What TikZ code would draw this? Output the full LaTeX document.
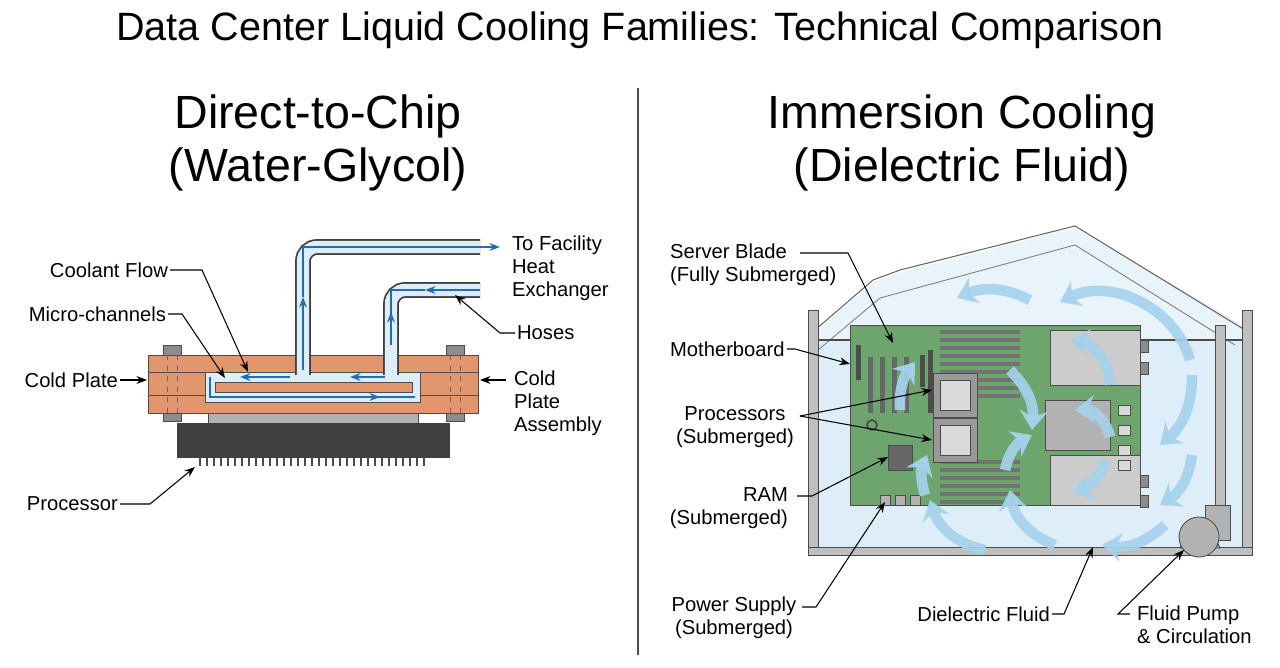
\documentclass[tikz,border=0pt]{standalone}
\usepackage{fontspec}
\setmainfont{Liberation Sans}
\usetikzlibrary{arrows.meta,positioning}
\definecolor{copper}{RGB}{226,150,110}
\definecolor{fluid}{RGB}{222,238,248}
\definecolor{flow}{RGB}{30,110,190}
\definecolor{swirl}{RGB}{165,210,238}
\definecolor{board}{RGB}{110,165,110}
\begin{document}
\begin{tikzpicture}[x=0.02cm,y=-0.02cm,
    lbl/.style={font=\fontsize{11.5}{13}\selectfont, inner sep=1pt},
    head/.style={font=\fontsize{26.5}{30}\selectfont, align=center},
    lead/.style={line width=0.6pt, -{Stealth[length=6pt]}},
    pipe/.style={line width=9pt, rounded corners=8pt, draw=black!75},
    pipein/.style={line width=7pt, rounded corners=8pt, draw=fluid},
    fl/.style={flow, line width=0.8pt, -{Stealth[length=6pt]}},
    swirlarrow/.style={swirl, line width=6pt, -{Stealth[length=11pt,width=16pt]}, opacity=0.9},
    part/.style={draw=black!70, line width=0.5pt}
]
\useasboundingbox (0,0) rectangle (1280,668);

% titles
\node[font=\fontsize{22.5}{26}\selectfont] (title) at (640,30) {Data Center Liquid Cooling Families: Technical Comparison};
\node[head] (dtc) at (318,143) {Direct-to-Chip\\(Water-Glycol)};
\node[head] (imm) at (962,143) {Immersion Cooling\\(Dielectric Fluid)};
\draw[black!70, line width=0.8pt] (638,88) -- (638,655);

% ---------- direct-to-chip ----------
% cold plate
\fill[copper, part] (148,355) rectangle (478,413);
\draw[part] (148,372) -- (478,372) (148,395) -- (478,395);
\fill[fluid, part] (205,372) rectangle (420,402);
\fill[copper, part] (215,382) rectangle (412,392);
% bolts
\foreach \bx in {172,455}{
  \fill[black!45, part] (\bx-9,345) rectangle (\bx+9,355);
  \fill[black!45, part] (\bx-9,413) rectangle (\bx+9,421);
  \draw[dashed, black!60] (\bx-5,355) -- (\bx-5,413) (\bx+5,355) -- (\bx+5,413);
}
% processor
\fill[black!30, part] (208,413) rectangle (418,423);
\fill[black!75] (177,423) rectangle (450,458);
\foreach \px in {200,207,...,428}
  \draw[black!70, line width=1.2pt] (\px,458) -- (\px,466);
% hoses
\draw[pipe] (303,375) -- (303,247) -- (480,247);
\draw[pipein] (303,375) -- (303,247) -- (480,247);
\draw[pipe] (391,375) -- (391,290) -- (480,290);
\draw[pipein] (391,375) -- (391,290) -- (480,290);
\coordinate (outA) at (303,370);
\coordinate (outB) at (303,297);
\draw[fl] (outA) -- (outB);
\draw[flow, line width=0.8pt] (303,297) -- (303,247) -- (390,247);
\draw[fl] (390,247) -- (500,247);
\coordinate (inA) at (480,290);
\draw[fl] (inA) -- (425,290);
\draw[flow, line width=0.8pt] (425,290) -- (391,290) -- (391,330);
\draw[fl] (391,345) -- (391,312);
\draw[fl] (290,377) -- (240,377);
\draw[fl] (385,377) -- (350,377);
\draw[fl] (340,397) -- (380,397);
\draw[flow, line width=0.6pt] (210,377) -- (210,397) -- (415,397);

% labels left
\node[lbl, anchor=west, align=left] (tofac) at (510,268) {To Facility\\Heat\\Exchanger};
\node[lbl, anchor=west] (hoses) at (515,333) {Hoses};
\draw[lead] (hoses.west) -- ++(-15,0) -- (455,295);
\node[lbl, anchor=east] (cflow) at (170,270) {Coolant Flow};
\draw[lead] (cflow.east) -- ++(32,0) -- (248,372);
\node[lbl, anchor=east] (micro) at (168,314) {Micro-channels};
\draw[lead] (micro.east) -- ++(14,0) -- (225,378);
\node[lbl, anchor=east] (cplate) at (120,380) {Cold Plate};
\draw[lead] (cplate.east) -- (147,380);
\node[lbl, anchor=west, align=left] (cpa) at (512,403) {Cold\\Plate\\Assembly};
\draw[lead] (506,380) -- (480,380);
\node[lbl, anchor=east] (proc) at (120,504) {Processor};
\draw[lead] (proc.east) -- ++(30,0) -- (195,467);

% ---------- immersion ----------
% fluid and tank
\fill[fluid] (818,340) rectangle (1242,547);
\fill[fluid!70] (818,330) -- (873,282) -- (900,272) -- (1075,228) -- (1242,325) -- (1242,340) -- (818,340) -- cycle;
\draw[black!60, line width=0.6pt] (815,330) -- (873,280) -- (900,270) -- (1075,226) -- (1245,330);
\draw[black!50, line width=0.5pt] (818,350) -- (880,298) -- (1075,245) -- (1235,345);
\draw[black!70, line width=0.8pt] (818,340) -- (1242,340);
\fill[black!25, part] (808,310) rectangle (818,555);
\fill[black!25, part] (1242,310) rectangle (1252,555);
\fill[black!25, part] (808,547) rectangle (1252,555);
% motherboard
\fill[board, draw=black!70] (850,325) rectangle (1140,505);
\foreach \sx in {868,880,892,904}
  \fill[black!60] (\sx,357) rectangle (\sx+5,413);
\fill[black!70] (856,345) rectangle (861,380);
\fill[black!70] (920,355) rectangle (925,387);
\fill[black!70] (928,350) rectangle (933,413);
\foreach \dy in {330,338,...,394}
  \fill[black!55] (940,\dy) rectangle (1020,\dy+4);
\foreach \dy in {460,468,...,502}
  \fill[black!55] (940,\dy) rectangle (1020,\dy+4);
\foreach \cy in {395,440}{
  \fill[black!40, part] (933,\cy-22) rectangle (977,\cy+22);
  \fill[black!15, part] (940,\cy-15) rectangle (970,\cy+15);
}
\fill[black!60, part] (888,445) rectangle (912,470);
\draw[part, line width=1pt] (872,425) circle (5);
\fill[black!20, part] (1050,330) rectangle (1140,385);
\fill[black!20, part] (1050,455) rectangle (1140,505);
\fill[black!30, part] (1045,400) rectangle (1110,450);
\foreach \ky in {340,362,475,495}
  \fill[black!45, part] (1140,\ky) rectangle (1148,\ky+12);
\foreach \ky in {405,425,445,460}
  \fill[black!15, part] (1118,\ky) rectangle (1130,\ky+10);
\foreach \kx in {880,895,910}
  \fill[black!30, part] (\kx,495) rectangle (\kx+10,505);
% pump
\fill[black!25, part] (1215,325) rectangle (1225,515);
\fill[black!30, part] (1205,505) rectangle (1230,540);
\fill[black!35, part] (1180,548) -- (1186,535) -- (1214,535) -- (1220,548) -- cycle;
\fill[black!30, part] (1199,537) circle (20);
\coordinate (pump) at (1184,550);
% circulation arrows
\draw[swirlarrow] (1030,300) to[bend right=25] (957,298);
\draw[swirlarrow] (1190,360) to[bend right=50] (1060,302);
\draw[swirlarrow] (1192,375) to[bend left=25] (1160,445);
\draw[swirlarrow] (1192,455) to[bend left=25] (1160,505);
\draw[swirlarrow] (1165,525) to[bend left=25] (1102,545);
\draw[swirlarrow] (1055,545) to[bend left=30] (1010,490);
\draw[swirlarrow] (985,550) to[bend left=30] (930,500);
\draw[swirlarrow] (1110,385) to[bend right=40] (1070,340);
\draw[swirlarrow] (1110,437) to[bend right=40] (1075,410);
\draw[swirlarrow] (1105,460) to[bend left=30] (1072,492);
\draw[swirlarrow] (1010,370) to[bend left=25] (1032,430);
\draw[swirlarrow] (1005,470) to[bend left=25] (1032,435);
\draw[swirlarrow] (900,410) to[bend left=20] (915,362);
\draw[swirlarrow] (925,495) to[bend left=20] (927,455);

% labels right
\node[lbl, anchor=west, align=left] (blade) at (668,265) {Server Blade\\(Fully Submerged)};
\draw[lead] (800,253) -- (848,253) -- (893,343);
\node[lbl, anchor=west] (mobo) at (668,349) {Motherboard};
\draw[lead] (mobo.east) -- ++(8,0) -- (850,364);
\node[lbl, align=center] (cpus) at (735,427) {Processors\\(Submerged)};
\coordinate (cpusL) at (800,416);
\draw[lead] (cpusL) -- (932,390);
\draw[lead] (cpusL) -- (932,440);
\node[lbl, align=right, anchor=east] (ram) at (790,508) {RAM\\(Submerged)};
\draw[lead] (797,496) -- (812,496) -- (888,457);
\node[lbl, align=center] (psu) at (734,618) {Power Supply\\(Submerged)};
\draw[lead] (802,607) -- (816,607) -- (885,502);
\node[lbl, anchor=east] (diel) at (1052,614) {Dielectric Fluid};
\draw[lead] (diel.east) -- ++(12,0) -- (1093,547);
\node[lbl, anchor=west, align=left] (pumplbl) at (1135,625) {Fluid Pump\\\& Circulation};
\draw[lead] (1130,614) -- (1118,614) -- (pump);
\end{tikzpicture}
\end{document}
